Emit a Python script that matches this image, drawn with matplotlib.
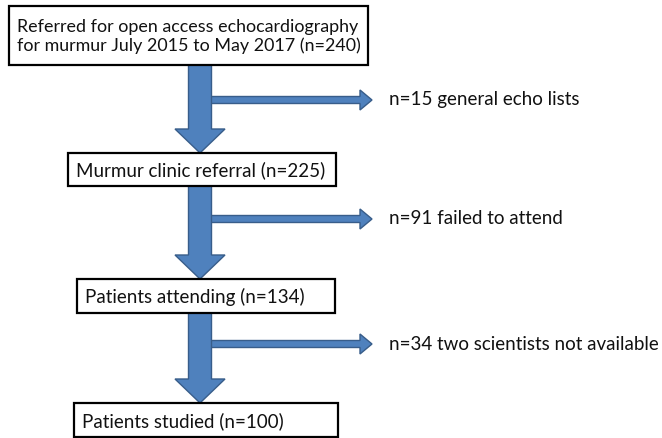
import matplotlib
matplotlib.use("Agg")
import matplotlib.pyplot as plt
from matplotlib.patches import Rectangle, FancyArrow

# flow chart text
box_labels = [
    "Referred for open access echocardiography\nfor murmur July 2015 to May 2017 (n=240)",
    "Murmur clinic referral (n=225)",
    "Patients attending (n=134)",
    "Patients studied (n=100)",
]
side_labels = [
    "n=15 general echo lists",
    "n=91 failed to attend",
    "n=34 two scientists not available",
]

# layout in pixels (x0, y0, x1, y1), y grows downwards
box_pos = [(9, 6, 368, 65), (68, 153, 336, 186), (77, 279, 335, 313), (74, 403, 338, 437)]
box_fs = [12.9, 13.5, 13.5, 13.5]
side_y = [100, 219, 344]

FILL = "#4F81BD"
EDGE = "#385D8A"
FONT = ["Lato", "DejaVu Sans"]
FS = 13.5

fig = plt.figure(figsize=(6.62, 4.38), dpi=100)
ax = fig.add_axes([0, 0, 1, 1])
ax.set_xlim(0, 662)
ax.set_ylim(438, 0)
ax.axis("off")

shaft_x = 200
shaft_w = 23
head_w = 50
head_l = 24

# big down arrows between boxes
for i in range(len(box_pos) - 1):
    top = box_pos[i][3]
    bottom = box_pos[i + 1][1]
    # side arrow drawn first so the shaft sits on top of it
    y = side_y[i]
    ax.add_patch(FancyArrow(shaft_x, y, 372 - shaft_x, 0, width=7, head_width=20,
                            head_length=12, length_includes_head=True,
                            facecolor=FILL, edgecolor=EDGE, linewidth=1))
    ax.add_patch(FancyArrow(shaft_x, top, 0, bottom - top, width=shaft_w, head_width=head_w,
                            head_length=head_l, length_includes_head=True,
                            facecolor=FILL, edgecolor=EDGE, linewidth=1))
    ax.text(389, y, side_labels[i], fontsize=FS, family=FONT, color="#111111",
            va="center", ha="left")

# boxes
for (x0, y0, x1, y1), lab, fs in zip(box_pos, box_labels, box_fs):
    ax.add_patch(Rectangle((x0, y0), x1 - x0, y1 - y0, facecolor="white",
                           edgecolor="black", linewidth=1.6, zorder=3))
    ax.text(x0 + 8, (y0 + y1) / 2 + 1, lab, fontsize=fs, family=FONT, color="#111111",
            va="center", ha="left", linespacing=1.25, zorder=4)

fig.savefig("out.png", dpi=100)
